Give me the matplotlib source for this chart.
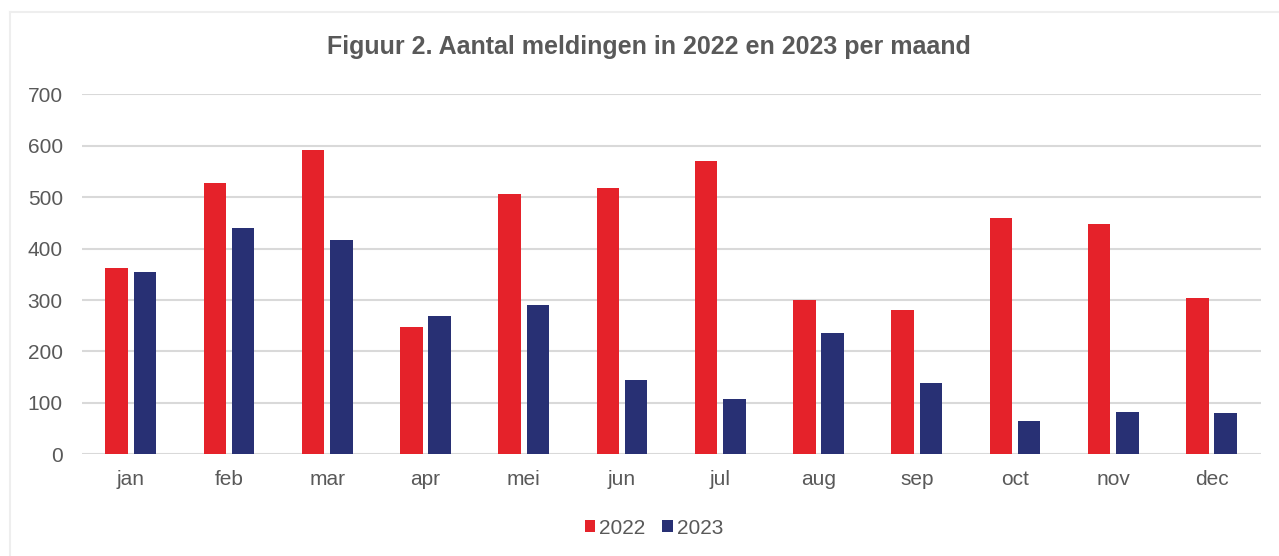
import matplotlib
matplotlib.use("Agg")
import matplotlib.pyplot as plt
import numpy as np
from matplotlib.lines import Line2D
from matplotlib.patches import Patch

months = ["jan", "feb", "mar", "apr", "mei", "jun", "jul", "aug", "sep", "oct", "nov", "dec"]
vals_2022 = [362, 527, 592, 248, 506, 518, 570, 301, 281, 459, 447, 303]
vals_2023 = [354, 441, 417, 268, 290, 144, 108, 235, 139, 65, 82, 80]
series_names = ["2022", "2023"]
yticks = [0, 100, 200, 300, 400, 500, 600, 700]

RED = "#E5222A"
NAVY = "#283074"
TXT = "#595959"
GRID = "#D9D9D9"

plt.rcParams['font.family'] = ['Liberation Sans', 'DejaVu Sans']

W, H = 1279, 556
fig = plt.figure(figsize=(W / 100, H / 100), dpi=100)

# axes in pixel coordinates
x0, x1 = 81.6, 1260.6
y_top, y_bot = 94.3, 454.3
ax = fig.add_axes([x0 / W, 1 - y_bot / H, (x1 - x0) / W, (y_bot - y_top) / H])

x = np.arange(len(months))
bw = 0.229
off = 0.143
ax.bar(x - off, vals_2022, width=bw, color=RED, zorder=3)
ax.bar(x + off, vals_2023, width=bw, color=NAVY, zorder=3)

ax.set_xlim(-0.5, 11.5)
ax.set_ylim(0, 700)
ax.set_yticks(yticks)
ax.set_yticklabels([str(v) for v in yticks])
ax.set_xticks(x)
ax.set_xticklabels(months)
ax.tick_params(axis='both', length=0, colors=TXT, labelsize=15)
ax.tick_params(axis='y', pad=13.5)
ax.tick_params(axis='x', pad=11)
for s in ax.spines.values():
    s.set_visible(False)
ax.yaxis.grid(True, color=GRID, linewidth=1.5, zorder=0)
ax.set_axisbelow(True)

fig.text(649 / W, 1 - 47 / H, "Figuur 2. Aantal meldingen in 2022 en 2023 per maand",
         ha='center', va='center', fontsize=18, fontweight='bold', color=TXT)

handles = [Patch(facecolor=RED, edgecolor='none'), Patch(facecolor=NAVY, edgecolor='none')]
fig.legend(handles, series_names, loc='center', bbox_to_anchor=(654 / W, 1 - 528 / H),
           ncol=2, frameon=False, fontsize=15, labelcolor=TXT,
           handlelength=0.5, handleheight=0.5, handletextpad=0.2, columnspacing=0.8,
           borderpad=0.2)

# outer frame (top and left edges)
fig.add_artist(Line2D([9.5 / W, 1.0], [1 - 12 / H, 1 - 12 / H], color="#EEEEEE", linewidth=1.5))
fig.add_artist(Line2D([9.8 / W, 9.8 / W], [0, 1 - 12 / H], color="#EEEEEE", linewidth=1.5))

fig.savefig("out.png", dpi=100, facecolor="white")
